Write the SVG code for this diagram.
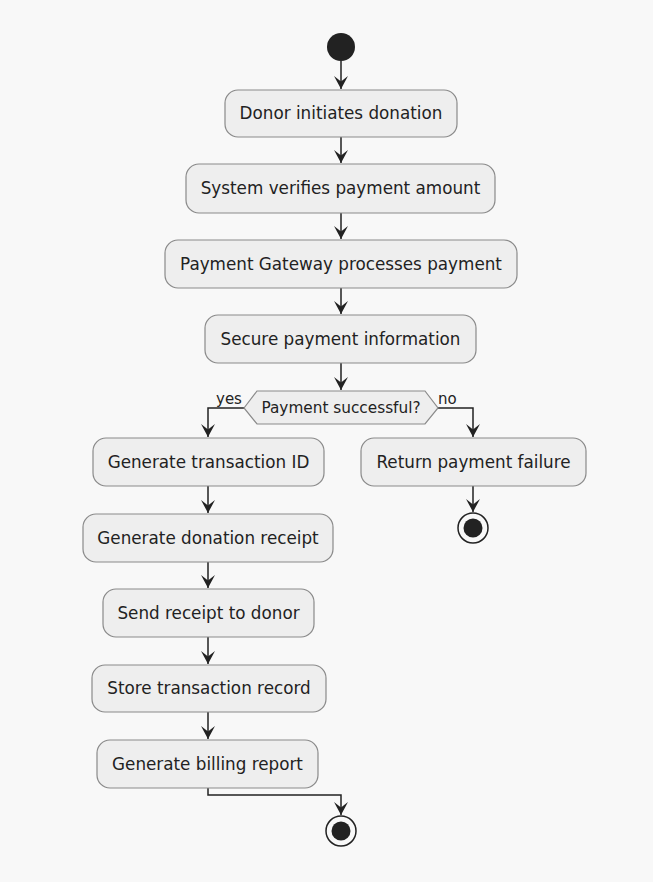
<svg xmlns="http://www.w3.org/2000/svg" width="653" height="882" viewBox="0 0 653 882">
<defs>
<style>
.bg{fill:#f8f8f8}
.box{fill:#eeeeee;stroke:#8a8a8a;stroke-width:1.2}
.t{font-family:"DejaVu Sans",sans-serif;font-size:16.8px;fill:#222;text-anchor:middle}
.d{font-family:"DejaVu Sans",sans-serif;font-size:15.3px;fill:#222;text-anchor:middle}
.l{font-family:"DejaVu Sans",sans-serif;font-size:15px;fill:#222}
.c{fill:none;stroke:#222;stroke-width:1.5}
</style>
<marker id="dn" viewBox="0 0 14 15" refX="7" refY="14" markerWidth="14" markerHeight="15" markerUnits="userSpaceOnUse" orient="0">
<path d="M0,1 L7,14 L14,1 L7,6.5 Z" fill="#222"/>
</marker>
</defs>
<rect class="bg" x="0" y="0" width="653" height="882"/>
<g id="connectors">
<path class="c" d="M341,61 V89" marker-end="url(#dn)"/>
<path class="c" d="M341,137 V163" marker-end="url(#dn)"/>
<path class="c" d="M341,213 V239" marker-end="url(#dn)"/>
<path class="c" d="M341,288 V314" marker-end="url(#dn)"/>
<path class="c" d="M341,363 V390" marker-end="url(#dn)"/>
<path class="c" d="M245,408 H208 V437" marker-end="url(#dn)"/>
<path class="c" d="M437,408 H473 V437" marker-end="url(#dn)"/>
<path class="c" d="M473,486 V512" marker-end="url(#dn)"/>
<path class="c" d="M208,486 V513" marker-end="url(#dn)"/>
<path class="c" d="M208,562 V588" marker-end="url(#dn)"/>
<path class="c" d="M208,637 V664" marker-end="url(#dn)"/>
<path class="c" d="M208,712 V739" marker-end="url(#dn)"/>
<path class="c" d="M208,788 V795 H341 V815" marker-end="url(#dn)"/>
</g>
<g id="start"><circle cx="341" cy="47" r="14" fill="#222"/></g>
<g id="n1"><rect class="box" x="225" y="90" width="232" height="47" rx="13"/><text class="t" x="341" y="119">Donor initiates donation</text></g>
<g id="n2"><rect class="box" x="186" y="164" width="309" height="49" rx="13"/><text class="t" x="340.5" y="194">System verifies payment amount</text></g>
<g id="n3"><rect class="box" x="165" y="240" width="352" height="48" rx="13"/><text class="t" x="341" y="270">Payment Gateway processes payment</text></g>
<g id="n4"><rect class="box" x="205" y="315" width="271" height="48" rx="13"/><text class="t" x="340.5" y="345">Secure payment information</text></g>
<g id="decision"><polygon class="box" points="244,408 257,391 425,391 438,408 425,424 257,424"/><text class="d" x="341" y="413">Payment successful?</text>
<text class="l" x="216" y="404">yes</text><text class="l" x="438" y="404">no</text></g>
<g id="n5"><rect class="box" x="93" y="438" width="231" height="48" rx="13"/><text class="t" x="208.5" y="468">Generate transaction ID</text></g>
<g id="n6"><rect class="box" x="361" y="438" width="225" height="48" rx="13"/><text class="t" x="473.5" y="468">Return payment failure</text></g>
<g id="end1"><circle cx="473" cy="528" r="15" fill="none" stroke="#222" stroke-width="1.5"/><circle cx="473" cy="528" r="9.5" fill="#222"/></g>
<g id="n7"><rect class="box" x="83" y="514" width="250" height="48" rx="13"/><text class="t" x="208" y="544">Generate donation receipt</text></g>
<g id="n8"><rect class="box" x="103" y="589" width="211" height="48" rx="13"/><text class="t" x="208.5" y="619">Send receipt to donor</text></g>
<g id="n9"><rect class="box" x="92" y="665" width="234" height="47" rx="13"/><text class="t" x="209" y="694">Store transaction record</text></g>
<g id="n10"><rect class="box" x="97" y="740" width="221" height="48" rx="13"/><text class="t" x="207.5" y="770">Generate billing report</text></g>
<g id="end2"><circle cx="341" cy="831" r="15" fill="none" stroke="#222" stroke-width="1.5"/><circle cx="341" cy="831" r="9.5" fill="#222"/></g>
</svg>
